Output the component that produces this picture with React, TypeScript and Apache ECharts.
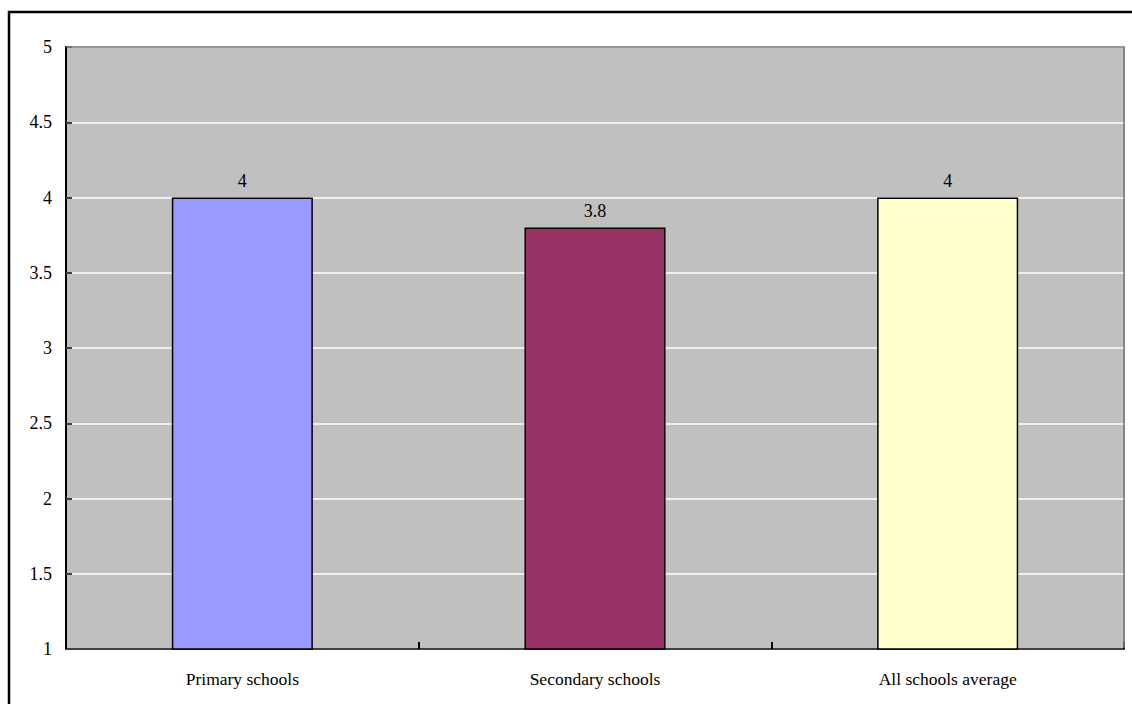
import React, { useEffect, useRef } from "react";
import * as echarts from "echarts";

const categories = ["Primary schools", "Secondary schools", "All schools average"];
const values = [4, 3.8, 4];
const barColors = ["#9999FF", "#993366", "#FFFFCC"];
const yMin = 1;
const yMax = 5;
const yStep = 0.5;

const FONT = "Liberation Serif";

export default function App() {
  const ref = useRef<HTMLDivElement>(null);

  useEffect(() => {
    if (!ref.current) return;
    const chart = echarts.init(ref.current, undefined, { renderer: "svg" });
    chart.setOption({
      animation: false,
      backgroundColor: "#ffffff",
      grid: {
        left: 66,
        top: 47,
        right: 8,
        bottom: 55,
        show: true,
        backgroundColor: "#C0C0C0",
        borderColor: "#808080",
        borderWidth: 1.5,
      },
      graphic: [
        {
          type: "rect",
          shape: { x: 9, y: 12, width: 1200, height: 1000 },
          style: { fill: "none", stroke: "#000000", lineWidth: 2.5 },
          silent: true,
        },
        {
          // top and right edges of the plot frame, drawn over the grid lines
          type: "polyline",
          shape: { points: [[67, 47], [1124, 47], [1124, 648]] },
          style: { fill: "none", stroke: "#808080", lineWidth: 1.5 },
          silent: true,
          z: 10,
        },
      ],
      xAxis: {
        type: "category",
        data: categories,
        boundaryGap: true,
        axisLine: { show: true, lineStyle: { color: "#404040", width: 2 } },
        axisTick: {
          show: true,
          inside: true,
          length: 7,
          alignWithLabel: false,
          lineStyle: { color: "#000000", width: 2 },
        },
        axisLabel: {
          color: "#000000",
          fontFamily: FONT,
          fontSize: 17.5,
          margin: 21,
        },
        splitLine: { show: false },
      },
      yAxis: {
        type: "value",
        min: yMin,
        max: yMax,
        interval: yStep,
        axisLine: { show: true, lineStyle: { color: "#000000", width: 2 } },
        axisTick: {
          show: true,
          inside: true,
          length: 6,
          lineStyle: { color: "#404040", width: 2 },
        },
        axisLabel: {
          color: "#000000",
          fontFamily: FONT,
          fontSize: 18,
          margin: 14,
        },
        splitLine: { show: true, lineStyle: { color: "#ffffff", width: 1.5 } },
      },
      series: [
        {
          type: "bar",
          barWidth: "40%",
          data: values.map((v, i) => ({
            value: v,
            itemStyle: {
              color: barColors[i],
              borderColor: "#000000",
              borderWidth: 1.5,
            },
          })),
          label: {
            show: true,
            position: "top",
            distance: 8,
            color: "#000000",
            fontFamily: FONT,
            fontSize: 18,
          },
        },
      ],
    });
    return () => chart.dispose();
  }, []);

  return (
    <div
      ref={ref}
      style={{ position: "fixed", left: 0, top: 0, width: 1132, height: 704 }}
    />
  );
}
